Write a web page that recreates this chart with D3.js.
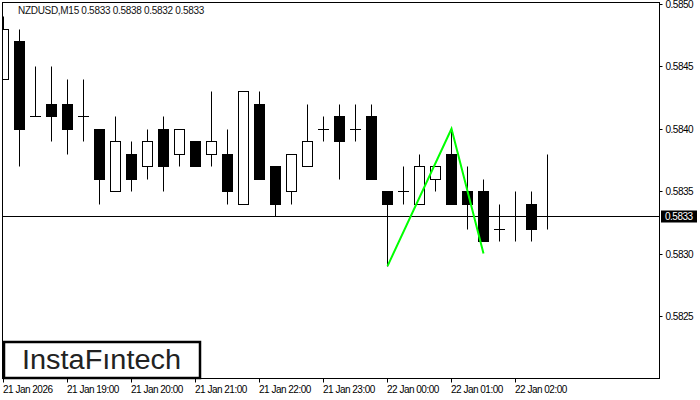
<!DOCTYPE html>
<html>
<head>
<meta charset="utf-8">
<script src="https://cdn.jsdelivr.net/npm/d3@7"></script>
<style>
html,body{margin:0;padding:0;background:#fff;}
svg{display:block;}
text{font-family:"Liberation Sans",Arial,sans-serif;}
</style>
</head>
<body>
<svg id="chart" width="700" height="400"></svg>
<script>
// ---- data ----
const symbolTitle = "NZDUSD,M15  0.5833 0.5838 0.5832 0.5833";
const times = ["2026-01-21T18:00Z","2026-01-21T18:15Z","2026-01-21T18:30Z","2026-01-21T18:45Z",
  "2026-01-21T19:00Z","2026-01-21T19:15Z","2026-01-21T19:30Z","2026-01-21T19:45Z",
  "2026-01-21T20:00Z","2026-01-21T20:15Z","2026-01-21T20:30Z","2026-01-21T20:45Z",
  "2026-01-21T21:00Z","2026-01-21T21:15Z","2026-01-21T21:30Z","2026-01-21T21:45Z",
  "2026-01-21T22:00Z","2026-01-21T22:15Z","2026-01-21T22:30Z","2026-01-21T22:45Z",
  "2026-01-21T23:00Z","2026-01-21T23:15Z","2026-01-21T23:30Z","2026-01-21T23:45Z",
  "2026-01-22T00:00Z","2026-01-22T00:15Z","2026-01-22T00:30Z","2026-01-22T00:45Z",
  "2026-01-22T01:00Z","2026-01-22T01:15Z","2026-01-22T01:30Z","2026-01-22T01:45Z",
  "2026-01-22T02:00Z","2026-01-22T02:15Z","2026-01-22T02:30Z"];
const opens  = [0.5844,0.5847,0.5841,0.5842,0.5842,0.5841,0.5840,0.5835,0.5838,0.5837,0.5840,0.5838,
                0.5839,0.5838,0.5838,0.5834,0.5842,0.5837,0.5835,0.5837,0.5840,0.5841,0.5840,0.5841,
                0.5835,0.5835,0.5834,0.5836,0.5838,0.5835,0.5835,0.5832,0.5833,0.5834,0.5833];
const highs  = [0.5849,0.5848,0.5845,0.5845,0.5844,0.5844,0.5840,0.5841,0.5839,0.5840,0.5841,0.5840,
                0.5839,0.5843,0.5840,0.5843,0.5843,0.5837,0.5838,0.5842,0.5841,0.5842,0.5842,0.5842,
                0.5835,0.5837,0.5838,0.5837,0.5840,0.5837,0.5836,0.5834,0.5835,0.5835,0.5838];
const lows   = [0.5844,0.5837,0.5841,0.5839,0.5838,0.5839,0.5834,0.5835,0.5835,0.5836,0.5835,0.5837,
                0.5837,0.5837,0.5834,0.5834,0.5836,0.5833,0.5834,0.5837,0.5839,0.5836,0.5839,0.5836,
                0.5829,0.5834,0.5834,0.5835,0.5834,0.5832,0.5831,0.5831,0.5831,0.5831,0.5832];
const closes = [0.5848,0.5840,0.5841,0.5841,0.5840,0.5841,0.5836,0.5839,0.5836,0.5839,0.5837,0.5840,
                0.5837,0.5839,0.5835,0.5843,0.5836,0.5834,0.5838,0.5839,0.5840,0.5839,0.5840,0.5836,
                0.5834,0.5835,0.5837,0.5837,0.5834,0.5834,0.5831,0.5832,0.5833,0.5832,0.5833];
const patternTimes  = ["2026-01-22T00:00Z","2026-01-22T01:00Z","2026-01-22T01:30Z"];
const patternPrices = [0.5829, 0.5840, 0.5830];
const currentPrice = 0.5833;
const priceTicks = [0.5825,0.5830,0.5835,0.5840,0.5845,0.5850];
const timeTicks = ["2026-01-21T18:00Z","2026-01-21T19:00Z","2026-01-21T20:00Z","2026-01-21T21:00Z",
  "2026-01-21T22:00Z","2026-01-21T23:00Z","2026-01-22T00:00Z","2026-01-22T01:00Z","2026-01-22T02:00Z"];
const timeTickLabels = ["21 Jan 2026","21 Jan 19:00","21 Jan 20:00","21 Jan 21:00","21 Jan 22:00",
  "21 Jan 23:00","22 Jan 00:00","22 Jan 01:00","22 Jan 02:00"];
const logoText = "InstaF\u0131ntech";

// ---- layout ----
const L = 2.5, R = 659.5, T = 2.5, B = 378.5;
const svg = d3.select("#chart");
const parse = s => new Date(s);
const t0 = parse(times[0]);
const x = d3.scaleTime()
  .domain([t0, new Date(+t0 + (657/64)*3600e3)])
  .range([3, 660]);
const y = d3.scaleLinear().domain([0.5825, 0.5850]).range([316, 4]);
const ry = v => Math.round(y(v)) + 0.5;
const rx = v => Math.round(x(v));

const candles = times.map((t,i)=>({t:parse(t),o:opens[i],h:highs[i],l:lows[i],c:closes[i]}));

svg.append("defs").append("clipPath").attr("id","clip")
  .append("rect").attr("x",L).attr("y",T).attr("width",R-L).attr("height",B-T);

const plot = svg.append("g").attr("clip-path","url(#clip)");

// current price line
plot.append("line").attr("x1",L).attr("x2",R)
  .attr("y1",ry(currentPrice)).attr("y2",ry(currentPrice))
  .attr("stroke","#000").attr("stroke-width",1);

// wicks
plot.append("g").selectAll("line").data(candles).join("line")
  .attr("x1",d=>rx(d.t)+0.5).attr("x2",d=>rx(d.t)+0.5)
  .attr("y1",d=>ry(d.h)).attr("y2",d=>ry(d.l)+ (d.h===d.l?0:0))
  .attr("stroke","#000").attr("stroke-width",1);

// bodies
const bodies = candles.filter(d=>d.o!==d.c);
plot.append("g").selectAll("rect").data(bodies).join("rect")
  .attr("x",d=>rx(d.t)-5+0.5)
  .attr("width",10)
  .attr("y",d=>ry(Math.max(d.o,d.c)))
  .attr("height",d=>ry(Math.min(d.o,d.c))-ry(Math.max(d.o,d.c)))
  .attr("fill",d=>d.c<d.o?"#000":"#fff")
  .attr("stroke","#000").attr("stroke-width",1);

// doji ticks
const dojis = candles.filter(d=>d.o===d.c);
plot.append("g").selectAll("line").data(dojis).join("line")
  .attr("x1",d=>rx(d.t)-5).attr("x2",d=>rx(d.t)+6)
  .attr("y1",d=>ry(d.o)).attr("y2",d=>ry(d.o))
  .attr("stroke","#000").attr("stroke-width",1);

// pattern line
const patt = patternTimes.map((t,i)=>[x(parse(t))+0.5, y(patternPrices[i])]);
plot.append("path").attr("d",d3.line()(patt))
  .attr("fill","none").attr("stroke","#00ff00").attr("stroke-width",2);

// frame
svg.append("rect").attr("x",L).attr("y",T).attr("width",R-L).attr("height",B-T)
  .attr("fill","none").attr("stroke","#000").attr("stroke-width",1);

// right axis
const yAxis = d3.axisRight(y).tickValues(priceTicks).tickFormat(d3.format(".4f"))
  .tickSize(3).tickPadding(3);
const gy = svg.append("g").attr("transform",`translate(${R},0)`).call(yAxis);
gy.select(".domain").remove();
gy.selectAll(".tick").attr("transform",d=>`translate(0,${ry(d)})`);
gy.selectAll(".tick line").attr("stroke","#000");
gy.selectAll(".tick text").attr("fill","#000").attr("font-size","10px")
  .attr("letter-spacing","-0.5px").attr("font-family","Liberation Sans, Arial, sans-serif")
  .attr("x",6).attr("dy","0.34em");

// bottom axis
const tickDates = timeTicks.map(parse);
const xAxis = d3.axisBottom(x).tickValues(tickDates)
  .tickFormat((d,i)=>timeTickLabels[i]).tickSize(4).tickPadding(2);
const gx = svg.append("g").attr("transform",`translate(0,${B})`).call(xAxis);
gx.select(".domain").remove();
gx.selectAll(".tick").attr("transform",d=>`translate(${rx(d)+0.5},0)`);
gx.selectAll(".tick line").attr("stroke","#000");
gx.selectAll(".tick text").attr("fill","#000").attr("font-size","10px")
  .attr("letter-spacing","-0.5px").attr("font-family","Liberation Sans, Arial, sans-serif")
  .attr("text-anchor","start").attr("x",-0.5).attr("y",14).attr("dy",0);

// price label box
const py = ry(currentPrice);
svg.append("rect").attr("x",661).attr("y",py-6).attr("width",36).attr("height",12).attr("fill","#000");
svg.append("text").attr("x",665).attr("y",py+3.5).attr("fill","#fff")
  .attr("font-size","10px").attr("letter-spacing","-0.5px").text(d3.format(".4f")(currentPrice));

// title
svg.append("text").attr("x",18).attr("y",13.5).attr("fill","#111")
  .attr("font-size","10px").attr("letter-spacing","-0.3px").text(symbolTitle);

// logo
svg.append("rect").attr("x",4).attr("y",342).attr("width",196).attr("height",36)
  .attr("fill","#fff").attr("stroke","#000").attr("stroke-width",2.5);
svg.append("text").attr("x",22).attr("y",368.5).attr("fill","#222")
  .attr("font-family","Inter, Lato, sans-serif").attr("font-weight",500)
  .attr("font-size","27px").attr("textLength",159).attr("lengthAdjust","spacingAndGlyphs")
  .text(logoText);
</script>
</body>
</html>
